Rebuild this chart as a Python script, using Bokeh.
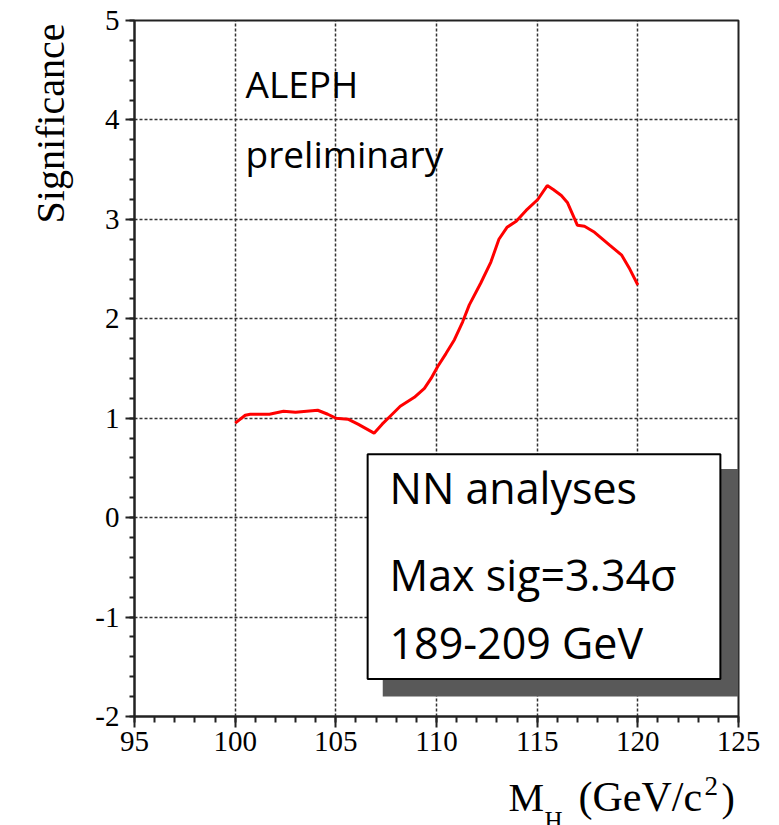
import numpy as np
from bokeh.plotting import figure
from bokeh.layouts import column
from bokeh.models import (Label, BoxAnnotation, SingleIntervalTicker, Range1d,
                          CustomJSTickFormatter, Title)
from bokeh.embed import file_html
from bokeh.resources import INLINE

# ---- data ----
mass = [100.0, 100.5, 100.75, 101.3, 101.7, 102.4, 103.0, 104.1, 104.6, 105.0,
        105.6, 106.1, 106.9, 107.3, 107.7, 108.2, 108.9, 109.4, 109.73, 110.06,
        110.47, 110.89, 111.3, 111.63, 112.2, 112.7, 113.1, 113.5, 113.96, 114.45,
        115.03, 115.5, 115.8, 116.2, 116.5, 117.0, 117.35, 117.85, 118.6, 119.2,
        119.6, 120.0]
significance = [0.95, 1.03, 1.04, 1.04, 1.04, 1.07, 1.06, 1.08, 1.04, 1.00,
                0.99, 0.94, 0.85, 0.94, 1.02, 1.12, 1.21, 1.30, 1.40, 1.52,
                1.65, 1.79, 1.97, 2.14, 2.36, 2.57, 2.80, 2.92, 2.98, 3.09,
                3.20, 3.34, 3.30, 3.24, 3.17, 2.94, 2.93, 2.87, 2.74, 2.64,
                2.50, 2.34]
box_lines = ["NN analyses", "Max sig=3.34\u03c3", "189-209 GeV"]
tag_lines = ["ALEPH", "preliminary"]
y_title = "Significance"
x_title_parts = ["M", "H", "(GeV/c", "2", ")"]

W, H = 779, 825
H1 = 770                      # main figure height; a strip below holds the x title
FL, FR, FT, FB = 134, 738, 20, 716

p = figure(width=W, height=H1, output_backend="svg", toolbar_location=None,
           x_range=Range1d(95, 125), y_range=Range1d(-2, 5),
           min_border_left=FL, min_border_right=W - FR,
           min_border_top=FT, min_border_bottom=H1 - FB)
p.background_fill_color = "white"
p.border_fill_color = "white"
p.outline_line_color = "#222222"
p.outline_line_width = 2

# axes
p.xaxis.ticker = SingleIntervalTicker(interval=5, num_minor_ticks=5)
p.yaxis.ticker = SingleIntervalTicker(interval=1, num_minor_ticks=5)
for ax in (p.xaxis[0], p.yaxis[0]):
    ax.axis_line_color = "#222222"
    ax.axis_line_width = 2
    ax.major_tick_line_color = "#222222"
    ax.minor_tick_line_color = "#222222"
    ax.major_tick_line_width = 2
    ax.minor_tick_line_width = 2
    ax.major_tick_in = 0
    ax.minor_tick_in = 0
    ax.major_label_text_font = "Liberation Serif"
    ax.major_label_text_font_size = "29px"
    ax.major_label_text_color = "black"
    ax.formatter = CustomJSTickFormatter(code="return tick.toFixed(0);")
p.xaxis.major_tick_out = 11
p.xaxis.minor_tick_out = 6
p.xaxis.major_label_standoff = 4
p.yaxis.major_tick_out = 9
p.yaxis.minor_tick_out = 5
p.yaxis.major_label_standoff = 6
p.yaxis.major_label_orientation = "horizontal"

# y title, placed at the top end of the left side
p.add_layout(Title(text=y_title, align="right", text_font="Liberation Serif",
                   text_font_size="40px", text_font_style="normal",
                   text_color="black", standoff=40, offset=3), "left")

# grid
for g in (p.xgrid[0], p.ygrid[0]):
    g.grid_line_color = "#333333"
    g.grid_line_width = 1.5
    g.grid_line_dash = "3 2"

# curve
p.line(mass, significance, line_color="#ff0000", line_width=3)

# text box with shadow
p.add_layout(BoxAnnotation(left=107.33, right=125.0, top=0.49, bottom=-1.80,
                           fill_color="#595959", fill_alpha=1, line_alpha=0,
                           level="overlay"))
p.add_layout(BoxAnnotation(left=106.58, right=124.1, top=0.637, bottom=-1.623,
                           fill_color="white", fill_alpha=1, line_color="black",
                           line_width=2, line_alpha=1, level="overlay"))


def lab(fig, text, x, y, size, font="Open Sans"):
    # x, y: baseline-left in frame screen units; 0.37*size calibrates the baseline
    fig.add_layout(Label(x=x, y=y + 0.37 * size, x_units="screen", y_units="screen",
                         text=text, text_font=font, text_font_size=f"{size}px",
                         text_color="black", text_baseline="alphabetic",
                         text_align="left", level="overlay"))


# in-plot text (page pixel positions converted to frame screen units)
for t, py in zip(tag_lines, [97, 167]):
    lab(p, t, 245 - FL, FB - py, 37)
for t, py in zip(box_lines, [503, 590, 658]):
    lab(p, t, 389 - FL, FB - py, 43)

# x-axis title strip below the main figure (frame aligned with the main frame)
p2 = figure(width=W, height=H - H1, output_backend="svg", toolbar_location=None,
            x_range=Range1d(0, 1), y_range=Range1d(0, 1),
            x_axis_type=None, y_axis_type=None,
            min_border_left=FL, min_border_right=W - FR,
            min_border_top=0, min_border_bottom=0)
p2.outline_line_color = None
p2.background_fill_color = "white"
p2.border_fill_color = "white"
xt_pos = [(508, 812, 40), (544, 829, 25), (578, 812, 42), (704, 795, 27), (721, 812, 40)]
for t, (px, py, s) in zip(x_title_parts, xt_pos):
    lab(p2, t, px - FL, H - py, s, font="Liberation Serif")

layout = column(p, p2, spacing=0)
open("out.html", "w").write(file_html(layout, INLINE))
